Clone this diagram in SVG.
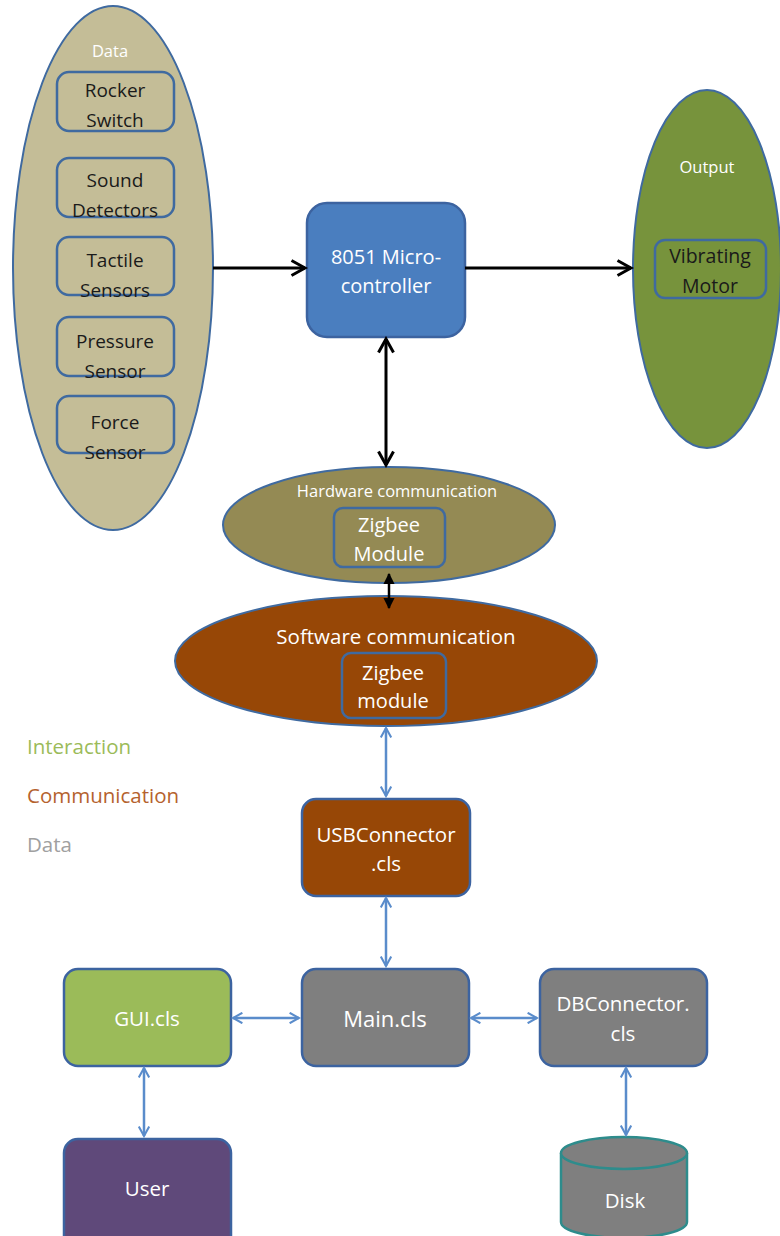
<svg xmlns="http://www.w3.org/2000/svg" width="780" height="1236" viewBox="0 0 780 1236">
<defs>
<style>
text{font-family:"Open Sans","Noto Sans","Liberation Sans",sans-serif;text-anchor:middle;dominant-baseline:central}
.w{fill:#ffffff}
.d{fill:#1a1a1a}
.inner{fill:none;stroke:#3f6aa0;stroke-width:2.5}
.sh{stroke:#3f6aa0;stroke-width:2}
.blk{stroke:#000;stroke-width:3;fill:none}
.blu{stroke:#5a8ccb;stroke-width:2.5;fill:none}
.box{stroke:#3c63a0;stroke-width:2.5}
.t{font-size:19px}
.b{font-size:20.5px}
</style>
<marker id="ob" viewBox="0 0 12 12" refX="10" refY="6" markerWidth="6" markerHeight="6" orient="auto-start-reverse" markerUnits="strokeWidth">
<path d="M1,1 L10,6 L1,11" fill="none" stroke="#000" stroke-width="2"/>
</marker>
<marker id="fb" viewBox="0 0 10 10" refX="9" refY="5" markerWidth="4.5" markerHeight="4.5" orient="auto-start-reverse" markerUnits="strokeWidth">
<path d="M0,0 L10,5 L0,10 Z" fill="#000"/>
</marker>
<marker id="bl" viewBox="0 0 12 12" refX="10" refY="6" markerWidth="5" markerHeight="5" orient="auto-start-reverse" markerUnits="strokeWidth">
<path d="M1,1 L10,6 L1,11" fill="none" stroke="#5a8ccb" stroke-width="2"/>
</marker>
</defs>
<rect width="780" height="1236" fill="#ffffff"/>

<g id="data">
<ellipse cx="113" cy="268" rx="100" ry="262" fill="#c4bd97" class="sh"/>
<text x="110" y="50" class="w" font-size="16.5">Data</text>
<rect x="57" y="72" width="117" height="59" rx="12" class="inner"/>
<text x="115" y="90" class="d t">Rocker</text>
<text x="115" y="120" class="d t">Switch</text>
<rect x="57" y="158" width="117" height="59" rx="12" class="inner"/>
<text x="115" y="180" class="d t">Sound</text>
<text x="115" y="210" class="d t">Detectors</text>
<rect x="57" y="237" width="117" height="58" rx="12" class="inner"/>
<text x="115" y="260" class="d t">Tactile</text>
<text x="115" y="290" class="d t">Sensors</text>
<rect x="57" y="317" width="117" height="59" rx="12" class="inner"/>
<text x="115" y="341" class="d t">Pressure</text>
<text x="115" y="371" class="d t">Sensor</text>
<rect x="57" y="396" width="117" height="57" rx="12" class="inner"/>
<text x="115" y="422" class="d t">Force</text>
<text x="115" y="452" class="d t">Sensor</text>
</g>

<g id="micro">
<rect x="307" y="203" width="158" height="134" rx="20" fill="#4a7ebf" class="box"/>
<text x="386" y="256" class="w" font-size="20">8051 Micro-</text>
<text x="386" y="285" class="w" font-size="20">controller</text>
</g>

<g id="output">
<ellipse cx="707" cy="269" rx="74" ry="179" fill="#77933c" class="sh"/>
<text x="707" y="166" class="w" font-size="16.5">Output</text>
<rect x="655" y="240" width="111" height="58" rx="10" class="inner"/>
<text x="710" y="255" class="d" font-size="19.5">Vibrating</text>
<text x="710" y="285" class="d" font-size="19.5">Motor</text>
</g>

<g id="hardware">
<ellipse cx="389" cy="525" rx="166" ry="58" fill="#948a54" class="sh"/>
<text x="397" y="490" class="w" font-size="16.5">Hardware communication</text>
<rect x="334" y="508" width="111" height="59" rx="9" class="inner"/>
<text x="389" y="524" class="w" font-size="20">Zigbee</text>
<text x="389" y="553" class="w" font-size="20">Module</text>
</g>

<g id="software">
<ellipse cx="386" cy="661" rx="211" ry="65" fill="#974706" class="sh"/>
<text x="396" y="636" class="w" font-size="20.5">Software communication</text>
<rect x="342" y="653" width="104" height="65" rx="9" class="inner"/>
<text x="393" y="672" class="w" font-size="20">Zigbee</text>
<text x="393" y="700" class="w" font-size="20">module</text>
</g>

<g id="legend">
<text x="27" y="746" font-size="20.5" fill="#9bbb59" style="text-anchor:start">Interaction</text>
<text x="27" y="795" font-size="20.5" fill="#b5622e" style="text-anchor:start">Communication</text>
<text x="27" y="844" font-size="20.5" fill="#a0a0a0" style="text-anchor:start">Data</text>
</g>

<g id="usb">
<rect x="302" y="799" width="168" height="97" rx="14" fill="#974706" class="box"/>
<text x="386" y="834" class="w b">USBConnector</text>
<text x="386" y="863" class="w b">.cls</text>
</g>

<g id="gui">
<rect x="64" y="969" width="167" height="97" rx="14" fill="#9bbb59" class="box"/>
<text x="147" y="1018" class="w b">GUI.cls</text>
</g>

<g id="main">
<rect x="302" y="969" width="167" height="97" rx="14" fill="#7f7f7f" class="box"/>
<text x="385" y="1018" class="w" font-size="22">Main.cls</text>
</g>

<g id="db">
<rect x="540" y="969" width="167" height="97" rx="14" fill="#7f7f7f" class="box"/>
<text x="623" y="1003" class="w b">DBConnector.</text>
<text x="623" y="1033" class="w b">cls</text>
</g>

<g id="user">
<rect x="64" y="1139" width="167" height="110" rx="14" fill="#5f497a" class="box"/>
<text x="147" y="1188" class="w b">User</text>
</g>

<g id="disk">
<path d="M561,1153 L561,1222 A63,16 0 0 0 687,1222 L687,1153" fill="#7f7f7f" stroke="#2e8c8c" stroke-width="2.5"/>
<ellipse cx="624" cy="1153" rx="63" ry="16" fill="#7f7f7f" stroke="#2e8c8c" stroke-width="2.5"/>
<text x="625" y="1200" class="w b">Disk</text>
</g>

<g id="connectors">
<line x1="213" y1="268" x2="305" y2="268" class="blk" marker-end="url(#ob)"/>
<line x1="465" y1="268" x2="631" y2="268" class="blk" marker-end="url(#ob)"/>
<line x1="386" y1="339" x2="386" y2="465" class="blk" marker-start="url(#ob)" marker-end="url(#ob)"/>
<line x1="389" y1="574" x2="389" y2="608" stroke="#000" stroke-width="2.5" marker-start="url(#fb)" marker-end="url(#fb)"/>
<line x1="386" y1="728" x2="386" y2="796" class="blu" marker-start="url(#bl)" marker-end="url(#bl)"/>
<line x1="386" y1="898" x2="386" y2="966" class="blu" marker-start="url(#bl)" marker-end="url(#bl)"/>
<line x1="233" y1="1018" x2="299" y2="1018" class="blu" marker-start="url(#bl)" marker-end="url(#bl)"/>
<line x1="471" y1="1018" x2="537" y2="1018" class="blu" marker-start="url(#bl)" marker-end="url(#bl)"/>
<line x1="144" y1="1068" x2="144" y2="1136" class="blu" marker-start="url(#bl)" marker-end="url(#bl)"/>
<line x1="626" y1="1068" x2="626" y2="1135" class="blu" marker-start="url(#bl)" marker-end="url(#bl)"/>
</g>
</svg>
